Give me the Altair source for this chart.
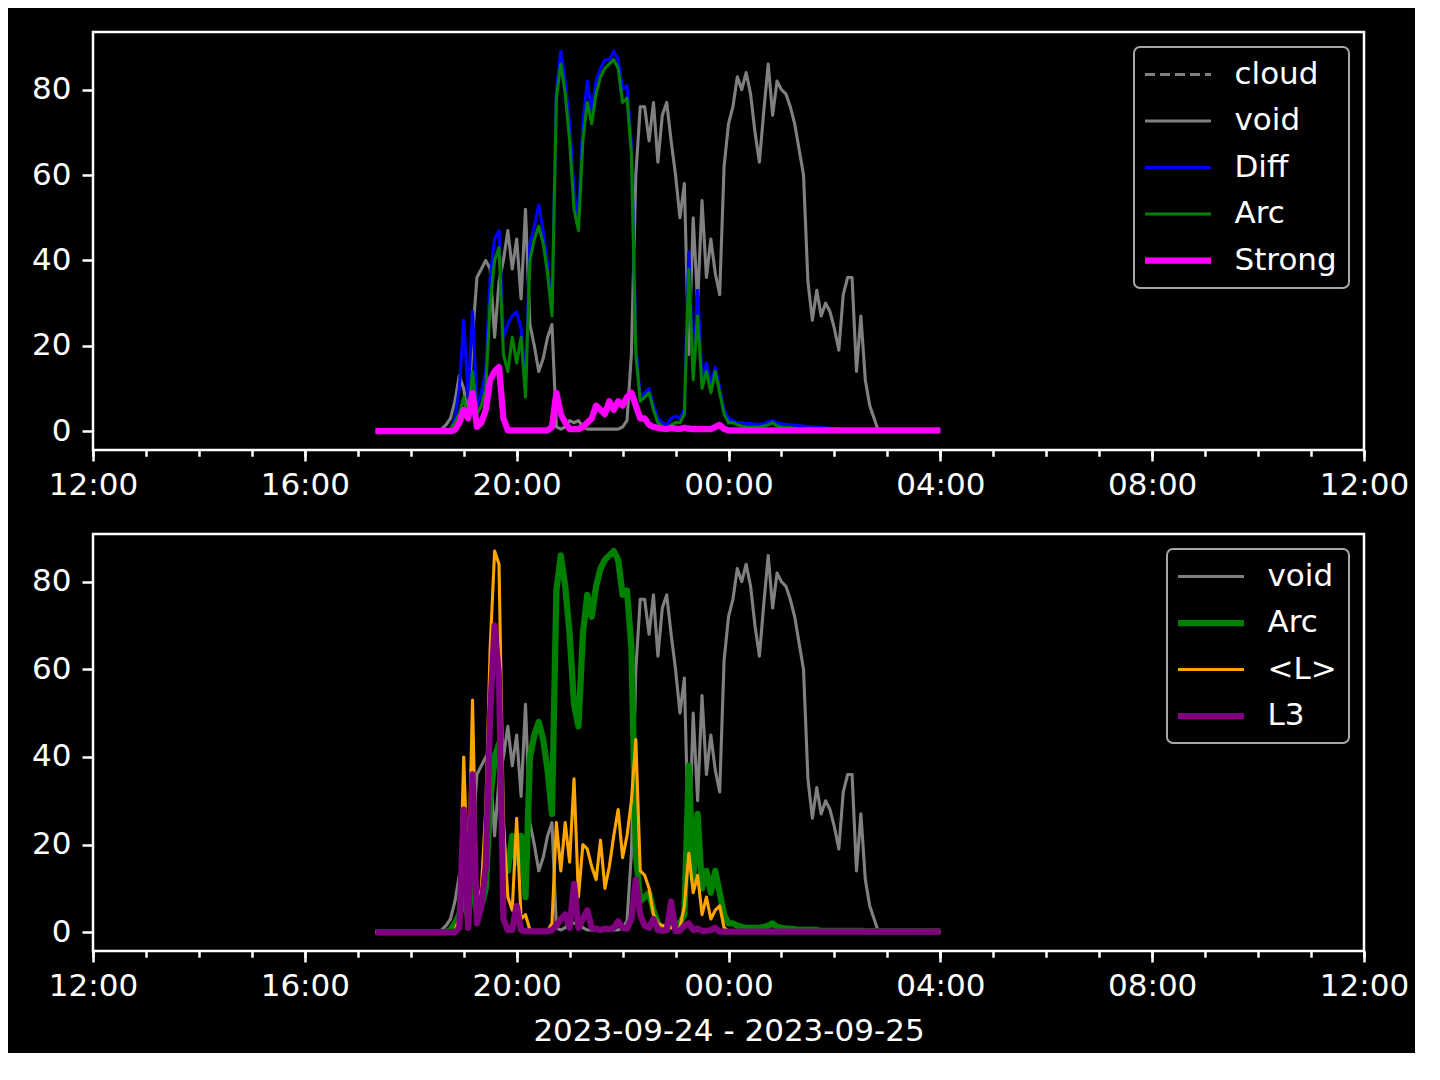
import altair as alt
import pandas as pd

# ---------------- data (sampled every 5 minutes from 17:20 to 04:00) ----------------
TIME_START = "2023-09-24 17:20:00"
TIME_STEP = "5min"

VOID = [0, 0, 0, 0, 0, 0, 0, 0, 0, 0, 0, 0, 0, 0, 0,
        0.5, 1.5, 3, 7, 13, 10, 3, 22, 36, 38, 40, 38, 22, 35, 40,
        47, 38, 45, 31, 52, 25, 20, 14, 17, 22, 25, 1, 0.5, 1, 2.5,
        2, 2.5, 1,
        0.5, 0.5, 0.5, 0.5, 0.5, 0.5, 0.5, 0.5,
        1, 2.5, 18, 60, 76, 76, 68, 77, 63, 74, 77, 68, 60, 50, 58,
        18, 50, 30, 54, 36, 45, 37, 32, 62, 72, 76, 83, 80, 84, 79,
        70, 63, 75, 86, 74, 82, 80, 79, 76, 72, 66, 60, 35, 26, 33,
        27, 30, 28, 24, 19, 32, 36, 36, 14, 27, 12, 6, 3,
        0, 0, 0, 0, 0, 0, 0, 0, 0, 0, 0, 0, 0, 0, 0]

ARC = [0, 0, 0, 0, 0, 0, 0, 0, 0, 0, 0, 0, 0, 0, 0, 0, 0,
       0.5, 2, 4, 8, 3, 14, 4, 6, 10, 30, 40, 43, 18, 14, 22, 16,
       22, 8, 40, 45, 48, 44, 37, 27, 78, 86, 79, 68, 52, 47, 68,
       77, 72, 79, 83, 85, 86, 87, 85, 77, 78, 65, 18, 7, 8, 9,
       5, 2, 1, 0.5, 1.5, 2, 2, 4, 38, 12, 27, 10, 14, 9, 14, 9,
       4, 2, 2, 1.5, 1.2, 1, 1, 1, 1, 1.2, 1.5, 2, 1.2, 1, 0.8,
       0.8, 0.7,
       0.5, 0.5, 0.5, 0.5, 0.5,
       0.3, 0.3, 0.3, 0.3, 0.3, 0.3, 0.3, 0.3, 0.3, 0.3,
       0.2, 0.2, 0.2, 0.2, 0.2, 0.2, 0.2, 0.2, 0.2, 0.2, 0.2, 0.2,
       0.2, 0.2, 0.2, 0.2, 0.2, 0.2]

DIFF = [0, 0, 0, 0, 0, 0, 0, 0, 0, 0, 0, 0, 0, 0, 0, 0, 0,
        0.5, 3, 10, 26, 8, 28, 6, 9, 14, 36, 45, 47, 22, 25, 27, 28,
        24, 10, 44, 48, 53, 47, 39, 28, 80, 89, 82, 72, 56, 50, 72,
        82, 75, 82, 85, 87, 87, 89, 87, 80, 81, 67, 20, 8, 9, 10,
        6, 3, 2, 1.5, 3, 3.5, 3, 5, 42, 14, 33, 12, 16, 11, 15, 10,
        5, 3, 2.5, 2, 2, 1.8, 1.8, 1.7, 1.6, 1.8, 2.2, 2.5, 2, 1.8,
        1.6, 1.5, 1.4, 1.3, 1.2, 1.1, 1, 1, 0.9, 0.8, 0.7, 0.6, 0.5,
        0.4, 0.4, 0.4, 0.4, 0.4, 0.4, 0.4, 0.4, 0.4, 0.4, 0.4, 0.4,
        0.4, 0.4, 0.4, 0.4, 0.4, 0.4, 0.4, 0.4, 0.4, 0.4, 0.4]

STRONG = [0, 0, 0, 0, 0, 0, 0, 0, 0, 0, 0, 0, 0, 0, 0, 0, 0, 0,
          0.3, 2, 5, 3, 9, 1, 2, 5, 12, 14, 15, 3,
          0.2, 0.2, 0.2, 0.2, 0.2, 0.2, 0.2, 0.2, 0.2, 0.2,
          1, 9, 4, 2, 0.5, 0.5, 0.5, 1, 2, 3, 6, 5, 4, 7, 5, 7,
          6, 8, 9, 6, 3, 3, 1.5, 1, 0.8, 0.6, 0.5, 0.8, 0.6, 0.5,
          0.8, 0.6,
          0.5, 0.5, 0.5, 0.5, 0.5,
          1, 1.5, 0.5,
          0.2, 0.2, 0.2, 0.2, 0.2, 0.2, 0.2, 0.2, 0.2, 0.2, 0.2, 0.2,
          0.2, 0.2, 0.2, 0.2, 0.2, 0.2, 0.2, 0.2, 0.2, 0.2, 0.2, 0.2,
          0.2, 0.2, 0.2, 0.2, 0.2, 0.2, 0.2, 0.2, 0.2, 0.2, 0.2, 0.2,
          0.2, 0.2, 0.2, 0.2, 0.2, 0.2, 0.2, 0.2, 0.2, 0.2, 0.2, 0.2,
          0.2]

# "cloud" has a legend entry but no visible trace in the picture
CLOUD = []

MEAN_L = [0, 0, 0, 0, 0, 0, 0, 0, 0, 0, 0, 0, 0, 0, 0, 0, 0, 0,
          0.5, 3, 40, 10, 53, 5, 10, 28, 65, 87, 84, 25, 8, 5, 26,
          3, 4, 0.5,
          0.3, 0.3, 0.3, 0.3,
          2, 25, 14, 25, 16, 35, 8, 20, 19, 15, 12, 21, 10, 15, 22,
          28, 17, 22, 30, 44, 14, 13, 10, 4, 2, 1.5, 1.5, 1, 1, 1,
          6, 18, 9, 13, 4, 8, 3, 5, 6, 1, 0.3,
          0.2, 0.2, 0.2, 0.2, 0.2, 0.2, 0.2, 0.2, 0.2, 0.2, 0.2, 0.2,
          0.2, 0.2, 0.2, 0.2, 0.2, 0.2, 0.2, 0.2, 0.2, 0.2, 0.2, 0.2,
          0.2, 0.2, 0.2, 0.2, 0.2, 0.2, 0.2, 0.2, 0.2, 0.2, 0.2, 0.2,
          0.2, 0.2, 0.2, 0.2, 0.2, 0.2, 0.2, 0.2, 0.2, 0.2, 0.2, 0.2]

L3 = [0, 0, 0, 0, 0, 0, 0, 0, 0, 0, 0, 0, 0, 0, 0, 0, 0, 0, 0,
      1, 28, 1, 36, 2, 6, 15, 50, 70, 58, 3, 0.5, 0.5, 6, 0.5,
      0.2, 0.2, 0.2, 0.2, 0.2, 0.2,
      0.5, 1.5, 3, 4, 1, 11, 1, 3, 5, 1, 0.8, 0.5, 0.8, 0.7, 1,
      2.5, 1, 0.8, 3, 12, 4, 1.5, 1, 3, 0.5, 0.3, 0.5, 7, 0.3,
      0.3, 1.5, 2, 0.5, 0.8, 0.3, 0.3, 0.5, 1,
      0.1, 0.1, 0.1, 0.1, 0.1, 0.1, 0.1, 0.1, 0.1, 0.1, 0.1, 0.1,
      0.1, 0.1, 0.1, 0.1, 0.1, 0.1, 0.1, 0.1, 0.1, 0.1, 0.1, 0.1,
      0.1, 0.1, 0.1, 0.1, 0.1, 0.1, 0.1, 0.1, 0.1, 0.1, 0.1, 0.1,
      0.1, 0.1, 0.1, 0.1, 0.1, 0.1, 0.1, 0.1, 0.1, 0.1, 0.1, 0.1,
      0.1, 0.1, 0.1]

TOP_NAMES = ["cloud", "void", "Diff", "Arc", "Strong"]
TOP_SERIES = [CLOUD, VOID, DIFF, ARC, STRONG]
BOT_NAMES = ["void", "Arc", "<L>", "L3"]
BOT_SERIES = [VOID, ARC, MEAN_L, L3]

Y_TICKS = [0, 20, 40, 60, 80]
X_TITLE = "2023-09-24 - 2023-09-25"

# ---------------- styles ----------------
TOP_COLORS = ["#808080", "#808080", "#0000ff", "#008000", "#ff00ff"]
TOP_WIDTHS = [3.1, 3.1, 3.1, 3.1, 6.25]
TOP_DASHES = [[10, 5], [1, 0], [1, 0], [1, 0], [1, 0]]
BOT_COLORS = ["#808080", "#008000", "#ffa500", "#800080"]
BOT_WIDTHS = [3.1, 6.25, 3.1, 6.25]
BOT_DASHES = [[1, 0], [1, 0], [1, 0], [1, 0]]

FONT = "DejaVu Sans"
FS = 31
PLOT_W = 1271

times = pd.date_range(TIME_START, periods=len(VOID), freq=TIME_STEP)


def long_frame(names, series):
    frames = [pd.DataFrame({"time": list(times[:len(v)]), "series": n, "value": v})
              for n, v in zip(names, series) if len(v)]
    return pd.concat(frames, ignore_index=True)


def dt(day, hour):
    return alt.DateTime(year=2023, month=9, date=day, hours=hour)


X_DOMAIN = [dt(24, 12), dt(25, 12)]
MAJOR = [dt(24, 12), dt(24, 16), dt(24, 20), dt(25, 0), dt(25, 4), dt(25, 8), dt(25, 12)]
MINOR = [dt(24, h) for h in range(12, 24)] + [dt(25, h) for h in range(0, 13)]


def panel(names, series, colors, widths, dashes, ydomain, height, xtitle):
    df = long_frame(names, series)
    xscale = alt.Scale(domain=X_DOMAIN)
    yscale = alt.Scale(domain=ydomain, nice=False, zero=False)
    major_axis = alt.Axis(values=MAJOR, format="%H:%M", orient="bottom",
                          labelFlush=False, labelOverlap=False, tickSize=11,
                          labelPadding=9, title=xtitle, titlePadding=15)
    minor_axis = alt.Axis(values=MINOR, labels=False, orient="bottom",
                          tickSize=6.25, title=None)
    yaxis = alt.Axis(values=Y_TICKS, title=None, tickSize=11, labelPadding=11)

    thick = [n for n, w in zip(names, widths) if w > 5]
    test = " || ".join("datum.value === '%s'" % n for n in thick) or "false"
    width_expr = "(%s) ? %s : %s" % (test, max(widths), min(widths))
    legend = alt.Legend(title=None, symbolStrokeWidth=alt.ExprRef(width_expr))
    color = alt.Color("series:N", scale=alt.Scale(domain=names, range=colors),
                      legend=legend, title=None)
    dash = alt.StrokeDash("series:N", scale=alt.Scale(domain=names, range=dashes),
                          legend=alt.Legend(title=None), title=None)

    layers = []
    for n, w in zip(names, widths):
        layers.append(
            alt.Chart(df)
            .transform_filter(alt.datum.series == n)
            .mark_line(strokeWidth=w, strokeJoin="round", strokeCap="butt")
            .encode(
                x=alt.X("time:T", scale=xscale, axis=major_axis),
                y=alt.Y("value:Q", scale=yscale, axis=yaxis),
                color=color,
                strokeDash=dash,
            )
        )
    lines = alt.layer(*layers)
    minor = (
        alt.Chart(df)
        .transform_filter(alt.datum.series == "void")
        .mark_point(opacity=0)
        .encode(x=alt.X("time:T", scale=xscale, axis=minor_axis))
    )
    return (
        alt.layer(lines, minor)
        .resolve_axis(x="independent")
        .properties(width=PLOT_W, height=height)
    )


top = panel(TOP_NAMES, TOP_SERIES, TOP_COLORS, TOP_WIDTHS, TOP_DASHES,
            [-4.4, 93.5], 418, None)
bottom = panel(BOT_NAMES, BOT_SERIES, BOT_COLORS, BOT_WIDTHS, BOT_DASHES,
               [-4.3, 90.9], 417, X_TITLE)

LEGEND_STYLE = dict(
    orient="top-right", offset=15, fillColor="black", strokeColor="#a6a6a6",
    cornerRadius=6, padding=12, labelColor="white", labelFont=FONT,
    labelFontSize=FS, symbolType="M-2.75,0H2.75", symbolSize=576,
    rowPadding=14.5, labelOffset=41, symbolOffset=16.5,
)


def build(legend_style):
    return (
        alt.vconcat(top, bottom, spacing=30)
        .resolve_scale(color="independent", strokeDash="independent")
        .properties(padding={"left": 22, "top": 22, "right": 5, "bottom": 5})
        .configure(background="black", font=FONT)
        .configure_view(stroke="white", strokeWidth=2.5)
        .configure_axis(
            labelColor="white", labelFont=FONT, labelFontSize=FS,
            titleColor="white", titleFont=FONT, titleFontSize=FS, titleFontWeight="normal",
            tickColor="white", tickWidth=2.5, grid=False, domain=False,
        )
        .configure_legend(**legend_style)
    )


try:
    chart = build(dict(LEGEND_STYLE, strokeWidth=2))
    chart.to_dict()
except Exception:
    chart = build(LEGEND_STYLE)

chart.save("out.html", embed_options={"renderer": "svg", "actions": False})
